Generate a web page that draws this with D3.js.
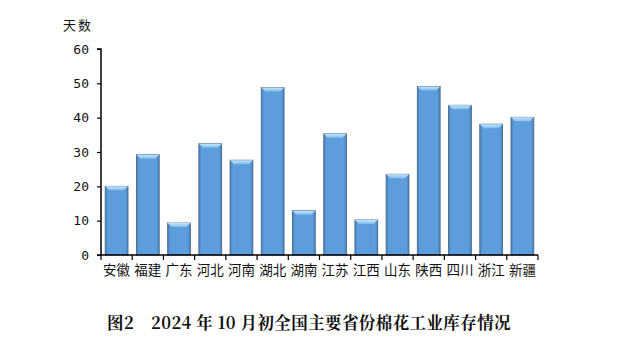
<!DOCTYPE html>
<html>
<head>
<meta charset="utf-8">
<script src="https://cdn.jsdelivr.net/npm/d3@7"></script>
<style>
  body { margin: 0; background: #fff; }
</style>
</head>
<body>
<div id="chart"></div>
<script>
// data
var provinces = ["安徽", "福建", "广东", "河北", "河南", "湖北", "湖南", "江苏", "江西", "山东", "陕西", "四川", "浙江", "新疆"];
var days = [20, 29.2, 9.3, 32.4, 27.6, 48.8, 12.9, 35.3, 10.2, 23.5, 49.1, 43.6, 38.1, 40.1];
var yTicks = [0, 10, 20, 30, 40, 50, 60];

var svgWidth = 619;
var svgHeight = 341;

var chartMargin = { top: 49, right: 81, bottom: 86, left: 101 };
var chartWidth = svgWidth - chartMargin.left - chartMargin.right;
var chartHeight = svgHeight - chartMargin.top - chartMargin.bottom;

var svg = d3.select("#chart")
    .append("svg")
    .attr("width", svgWidth)
    .attr("height", svgHeight);

var defs = svg.append("defs");
var grad = defs.append("linearGradient")
    .attr("id", "barGrad")
    .attr("x1", "0").attr("x2", "1").attr("y1", "0").attr("y2", "0");
grad.append("stop").attr("offset", "0").attr("stop-color", "#4680bd");
grad.append("stop").attr("offset", "0.12").attr("stop-color", "#5d9ddb");
grad.append("stop").attr("offset", "0.88").attr("stop-color", "#5d9ddb");
grad.append("stop").attr("offset", "1").attr("stop-color", "#4680bd");

var capGrad = defs.append("linearGradient")
    .attr("id", "capGrad")
    .attr("x1", "0").attr("x2", "0").attr("y1", "0").attr("y2", "1");
capGrad.append("stop").attr("offset", "0").attr("stop-color", "#c4e6fb");
capGrad.append("stop").attr("offset", "1").attr("stop-color", "#7fbdec");

var chartGroup = svg.append("g")
    .attr("transform", `translate(${chartMargin.left}, ${chartMargin.top})`);

var xScale = d3.scaleBand()
    .domain(provinces)
    .range([0, chartWidth])
    .paddingInner(0.27)
    .paddingOuter(0.135);

var yScale = d3.scaleLinear()
    .domain([0, 60])
    .range([chartHeight, 0]);

// bars
var bars = chartGroup.selectAll(".bar")
    .data(provinces)
    .enter()
    .append("g")
    .attr("class", "bar");

bars.append("rect")
    .attr("x", d => xScale(d))
    .attr("y", (d, i) => yScale(days[i]))
    .attr("width", xScale.bandwidth())
    .attr("height", (d, i) => chartHeight - yScale(days[i]))
    .attr("fill", "url(#barGrad)")
    .attr("stroke", "#4a6a8c")
    .attr("stroke-width", 0.9);

// bevelled top
var bev = 4;
bars.append("path")
    .attr("d", function(d, i) {
        var x0 = xScale(d), x1 = x0 + xScale.bandwidth(), y0 = yScale(days[i]);
        return `M${x0},${y0}L${x1},${y0}L${x1 - bev},${y0 + bev}L${x0 + bev},${y0 + bev}Z`;
    })
    .attr("fill", "url(#capGrad)");

// x axis: line plus tick marks between categories
var xAxisGroup = chartGroup.append("g")
    .attr("transform", `translate(0, ${chartHeight})`);

xAxisGroup.append("line")
    .attr("x1", 0).attr("x2", chartWidth)
    .attr("y1", 0).attr("y2", 0)
    .attr("stroke", "#000").attr("stroke-width", 1.5);

var step = xScale.step();
xAxisGroup.selectAll(".xtick")
    .data(d3.range(provinces.length + 1))
    .enter()
    .append("line")
    .attr("x1", i => xScale(provinces[0]) - xScale.paddingOuter() * step + i * step)
    .attr("x2", i => xScale(provinces[0]) - xScale.paddingOuter() * step + i * step)
    .attr("y1", 0).attr("y2", 5)
    .attr("stroke", "#000").attr("stroke-width", 1.2);

xAxisGroup.selectAll(".xlabel")
    .data(provinces)
    .enter()
    .append("text")
    .attr("x", d => xScale(d) + xScale.bandwidth() / 2)
    .attr("y", 20)
    .attr("text-anchor", "middle")
    .style("font-family", "'Noto Sans CJK SC', sans-serif")
    .style("font-size", "13.5px")
    .attr("fill", "#111")
    .text(d => d);

// y axis
var leftAxis = d3.axisLeft(yScale)
    .tickValues(yTicks)
    .tickSize(4)
    .tickPadding(8)
    .tickFormat(d3.format("d"));

var yAxisGroup = chartGroup.append("g").call(leftAxis);
yAxisGroup.select(".domain").attr("stroke-width", 1.5).attr("d", `M-4,0H0V${chartHeight}H-4`);
yAxisGroup.selectAll(".tick line").attr("stroke-width", 1.2);
yAxisGroup.selectAll(".tick text")
    .style("font-family", "'DejaVu Sans Mono', monospace")
    .style("font-size", "13px")
    .attr("fill", "#111");

// y axis unit
svg.append("text")
    .attr("x", 63)
    .attr("y", 30)
    .style("font-family", "'Noto Sans CJK SC', sans-serif")
    .style("font-size", "13px")
    .style("letter-spacing", "2px")
    .attr("fill", "#111")
    .text("天数");

// caption
svg.append("text")
    .attr("x", 309)
    .attr("y", 329)
    .attr("text-anchor", "middle")
    .style("font-family", "'Noto Serif CJK SC', 'Noto Sans CJK SC', serif")
    .style("font-size", "16.5px")
    .style("letter-spacing", "0.4px")
    .style("font-weight", "bold")
    .attr("fill", "#111")
    .text("图2\u20032024 年 10 月初全国主要省份棉花工业库存情况");
</script>
</body>
</html>
